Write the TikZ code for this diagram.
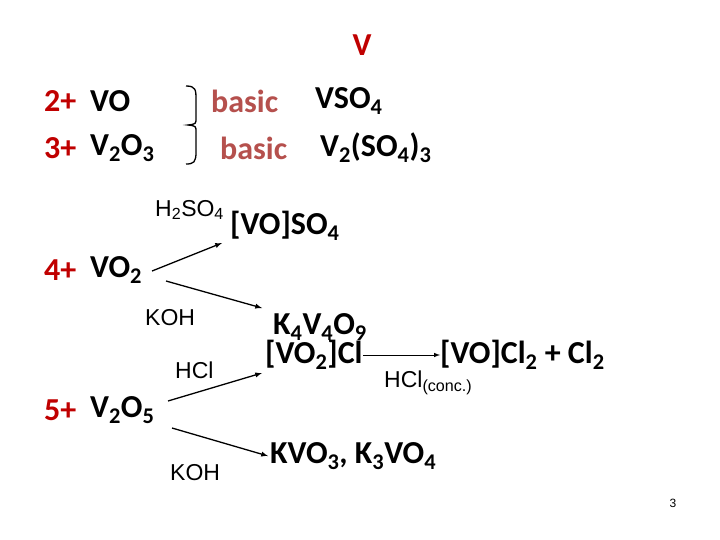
\documentclass[tikz,border=0pt]{standalone}
\usepackage{fontspec}
\setmainfont{Carlito}
\newfontfamily\arial{Liberation Sans}
\definecolor{dred}{HTML}{C00000}
\definecolor{bred}{HTML}{B5504D}
\newcommand{\chsub}[1]{\textsubscript{#1}}
\begin{document}
\begin{tikzpicture}[x=1pt,y=-1pt,
  chem/.style={font=\fontsize{32}{36}\selectfont\bfseries,inner sep=0pt,anchor=west},
  ox/.style={chem,text=dred},
  reag/.style={font=\arial\fontsize{23}{26}\selectfont,inner sep=0pt,anchor=west},
  arr/.style={-latex,line width=1.3pt}]
\useasboundingbox (0,0) rectangle (720,540);
\node[chem,text=dred,anchor=center] (V) at (362,45) {V};
\node[ox] (o2) at (44,101) {2+};
\node[chem] (vo) at (90,101) {VO};
\node[ox] (o3) at (44,148) {3+};
\node[chem] (v2o3) at (90,148) {V\chsub{2}O\chsub{3}};
\draw[line width=1.3pt] (186,86) .. controls (196,86) and (196,90) .. (196,100) -- (196,118) .. controls (196,124) .. (188,125) .. controls (196,126) .. (196,132) -- (196,152) .. controls (196,162) and (194,164) .. (186,164);
\node[chem,text=bred] (b1) at (211,101) {basic};
\node[chem,text=bred] (b2) at (220,148) {basic};
\node[chem] (vso4) at (315,101) {VSO\chsub{4}};
\node[chem] (v2so43) at (320,148) {V\chsub{2}(SO\chsub{4})\chsub{3}};
\node[reag] (h2so4) at (155,210) {H\chsub{2}SO\chsub{4}};
\node[chem] (voso4) at (230,226) {[VO]SO\chsub{4}};
\node[ox] (o4) at (44,270) {4+};
\node[chem] (vo2) at (90,270) {VO\chsub{2}};
\node[reag] (koh1) at (145,318) {KOH};
\node[chem] (k4v4o9) at (273,327) {K\chsub{4}V\chsub{4}O\chsub{9}};
\node[reag] (hcl) at (175,370) {HCl};
\node[chem] (vo2cl) at (265,355) {[VO\chsub{2}]Cl};
\node[chem] (vocl2) at (440,355) {[VO]Cl\chsub{2} + Cl\chsub{2}};
\node[reag] (hclc) at (384,383) {HCl\chsub{(conc.)}};
\node[ox] (o5) at (44,410) {5+};
\node[chem] (v2o5) at (90,410) {V\chsub{2}O\chsub{5}};
\node[reag] (koh2) at (170,473) {KOH};
\node[chem] (kvo3) at (270,456) {KVO\chsub{3}, K\chsub{3}VO\chsub{4}};
\node[font=\arial\fontsize{12}{14}\selectfont] (pg) at (673,503) {3};
\coordinate (a1s) at (152,271); \coordinate (a1e) at (222,243);
\coordinate (a2s) at (166,281); \coordinate (a2e) at (262,308);
\coordinate (a3s) at (168,401); \coordinate (a3e) at (262,373);
\coordinate (a4s) at (172,428); \coordinate (a4e) at (268,456);
\draw[arr] (a1s) -- (a1e);
\draw[arr] (a2s) -- (a2e);
\draw[arr] (a3s) -- (a3e);
\draw[arr] (a4s) -- (a4e);
\draw[arr,line width=1pt] (vo2cl.east) -- (vocl2.west);
\end{tikzpicture}
\end{document}
